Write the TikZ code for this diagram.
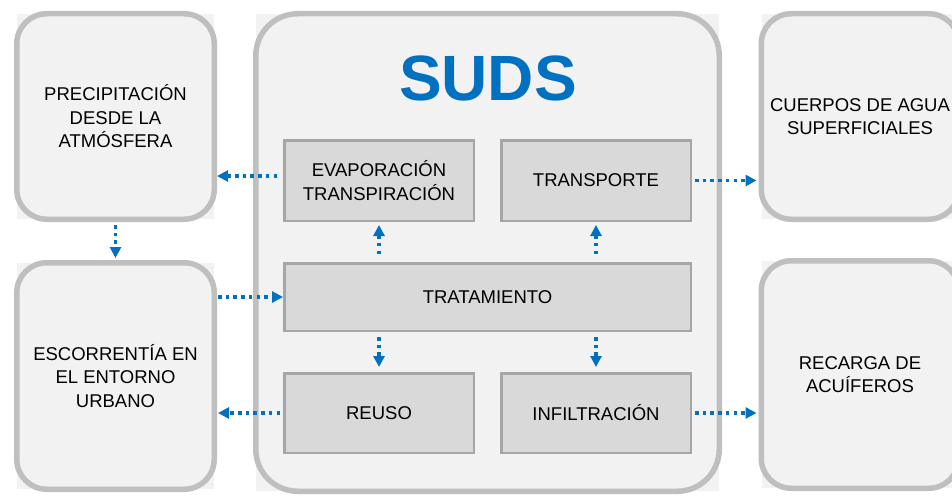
\documentclass[tikz,border=0pt]{standalone}
\usepackage{fontspec}
\setmainfont{Liberation Sans}
\usetikzlibrary{arrows.meta,backgrounds}
\definecolor{sudsblue}{HTML}{0070C0}
\definecolor{boxfill}{HTML}{F2F2F2}
\definecolor{boxline}{HTML}{BFBFBF}
\definecolor{stepfill}{HTML}{D9D9D9}
\definecolor{stepline}{HTML}{A6A6A6}
\tikzset{
  outerbox/.style={draw=boxline, fill=boxfill, line width=5.5pt, rounded corners=30pt,
    inner sep=0pt, align=center, font=\fontsize{18.5}{23.5}\selectfont},
  stepbox/.style={draw=stepline, fill=stepfill, line width=2.5pt,
    inner sep=0pt, align=center, font=\fontsize{18.5}{23.5}\selectfont},
  flow/.style={sudsblue, line width=3.5pt, dash pattern=on 3.5pt off 4.2pt,
    -{Triangle[length=11pt, width=11pt]}},
}
\begin{document}
\begin{tikzpicture}[x=1pt, y=-1pt]
\useasboundingbox (0,0) rectangle (952,495);
% outer boxes
\node[outerbox, minimum width=197.5pt, minimum height=205.5pt] (precip) at (115.5,116.5) {PRECIPITACIÓN\\DESDE LA\\ATMÓSFERA};
\node[outerbox, minimum width=197.5pt, minimum height=226.5pt] (escorr) at (115.5,376) {ESCORRENTÍA EN\\EL ENTORNO\\URBANO};
\node[outerbox, rounded corners=42pt, minimum width=463.5pt, minimum height=477.5pt] (suds) at (487.5,252.5) {};
\node[outerbox, minimum width=197.5pt, minimum height=205.5pt] (cuerpos) at (860,116.5) {CUERPOS DE AGUA\\SUPERFICIALES};
\node[outerbox, minimum width=197.5pt, minimum height=227.5pt] (recarga) at (860,374.5) {RECARGA DE\\ACUÍFEROS};
\begin{scope}[on background layer]
\foreach \b in {precip,escorr,suds,cuerpos,recarga}
  \fill[boxfill] ([shift={(3,3)}]\b.north west) rectangle ([shift={(-3,-3)}]\b.south east);
\end{scope}
% SUDS
\node[font=\bfseries\fontsize{64}{64}\selectfont, text=sudsblue, anchor=base] (title) at (488,100) {SUDS};
\node[stepbox, minimum width=189.5pt, minimum height=80.5pt] (evap) at (379,180.5) {EVAPORACIÓN\\TRANSPIRACIÓN};
\node[stepbox, minimum width=189.5pt, minimum height=80.5pt] (transp) at (596,180.5) {TRANSPORTE};
\node[stepbox, minimum width=406.5pt, minimum height=67.5pt] (tratam) at (487.5,297) {TRATAMIENTO};
\node[stepbox, minimum width=189.5pt, minimum height=79.5pt] (reuso) at (379,413) {REUSO};
\node[stepbox, minimum width=189.5pt, minimum height=79.5pt] (infil) at (596,413) {INFILTRACIÓN};
% flows
\coordinate (evapout) at ([yshift=4.5pt]evap.west);
\draw[flow, shorten <=6pt] (evapout) -- (evapout -| precip.east);
\draw[flow, shorten <=3pt, shorten >=2pt] (precip.south) -- (escorr.north);
\draw[flow, shorten <=1pt] (tratam.west -| escorr.east) -- (tratam.west);
\draw[flow, shorten <=8pt, shorten >=3pt] (evap.south |- tratam.north) -- (evap.south);
\draw[flow, shorten <=8pt, shorten >=3pt] (transp.south |- tratam.north) -- (transp.south);
\draw[flow, shorten <=5pt, shorten >=5pt] (reuso.north |- tratam.south) -- (reuso.north);
\draw[flow, shorten <=5pt, shorten >=5pt] (infil.north |- tratam.south) -- (infil.north);
\draw[flow, shorten <=3pt, shorten >=1pt] (reuso.west) -- (reuso.west -| escorr.east);
\draw[flow, shorten <=3pt, shorten >=2pt] (transp.east) -- (transp.east -| cuerpos.west);
\draw[flow, shorten <=3pt, shorten >=2pt] (infil.east) -- (infil.east -| recarga.west);
\end{tikzpicture}
\end{document}
